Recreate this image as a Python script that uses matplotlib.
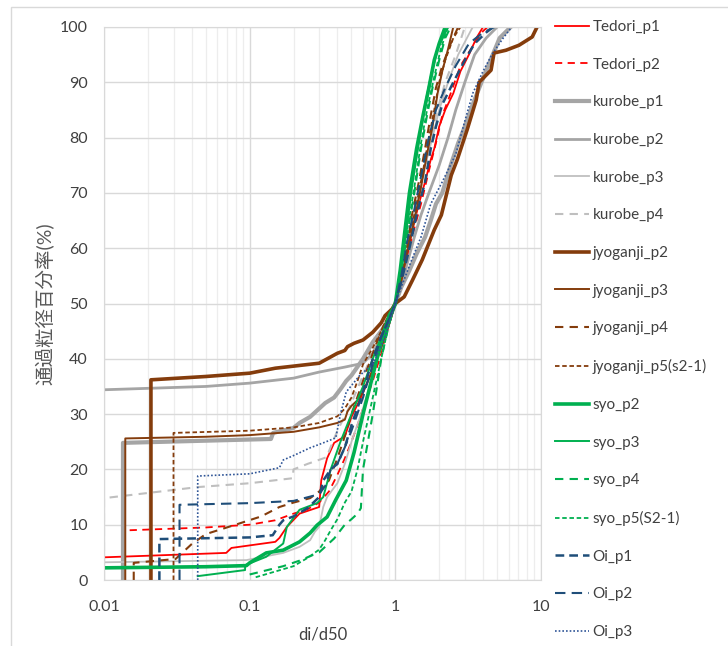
import matplotlib
matplotlib.use("Agg")
import matplotlib.pyplot as plt
from matplotlib.patches import Rectangle

plt.rcParams['font.family'] = ['Lato', 'Noto Sans CJK JP', 'DejaVu Sans']

# ---------------- data (di/d50, passing percentage) ----------------
tedori_p1_x = [0.01, 0.069, 0.075, 0.15, 0.16, 0.18, 0.22, 0.3, 0.31, 0.34, 0.38, 0.45, 0.5, 0.58, 0.7, 0.8, 0.9, 1.0,
               1.1, 1.2, 1.3, 1.45, 1.6, 1.75, 1.85, 2.0, 2.2, 2.5, 2.8, 3.2, 3.6, 4.0]
tedori_p1_y = [4.1, 4.9, 5.8, 6.9, 7.6, 9.6, 12, 13.2, 18, 22, 24.8, 26, 29.5, 33, 38, 42, 46, 50,
               54, 58, 63, 68, 72, 76, 78, 82, 85, 88, 92, 95, 98, 100]

tedori_p2_x = [0.015, 0.05, 0.1, 0.15, 0.2, 0.25, 0.3, 0.35, 0.4, 0.45, 0.5, 0.55, 0.6, 0.7, 0.8, 0.9, 1.0,
               1.15, 1.3, 1.5, 1.7, 1.9, 2.1, 2.4, 2.8, 3.3, 3.9, 4.3]
tedori_p2_y = [9.0, 9.5, 10.0, 10.8, 12.0, 12.8, 14.0, 16, 19, 22, 25, 28, 31, 36, 41, 46, 50,
               56, 62, 68, 74, 79, 84, 88, 93, 96, 99, 100]

kurobe_p1_x = [0.0135, 0.0135, 0.14, 0.145, 0.2, 0.22, 0.26, 0.3, 0.33, 0.38, 0.42, 0.46, 0.5, 0.6, 0.7, 0.8, 0.9, 1.0,
               1.1, 1.25, 1.4, 1.6, 1.75, 1.9, 2.1, 2.4, 2.7, 3.0, 3.4, 3.9, 4.5, 5.2, 6.2]
kurobe_p1_y = [0, 24.8, 25.5, 26.6, 27.5, 28.4, 29.5, 31, 32, 33, 34.5, 36, 37, 40, 43, 45, 47, 50,
               53, 56, 59, 62, 65, 68, 70, 75, 79, 82, 86, 90, 94, 98, 100]

kurobe_p2_x = [0.01, 0.05, 0.1, 0.2, 0.3, 0.45, 0.6, 0.7, 0.8, 0.9, 1.0,
               1.1, 1.2, 1.35, 1.5, 1.7, 2.0, 2.3, 2.6, 3.0, 3.5, 4.2, 5.0]
kurobe_p2_y = [34.4, 35.0, 35.6, 36.5, 37.6, 38.5, 39.2, 41, 44, 47, 50,
               53, 57, 62, 66, 70, 75, 80, 85, 90, 95, 98, 100]

kurobe_p3_x = [0.01, 0.095, 0.17, 0.22, 0.26, 0.28, 0.3, 0.32, 0.34, 0.4, 0.45, 0.5, 0.6, 0.7, 0.8, 0.9, 1.0,
               1.1, 1.25, 1.4, 1.6, 1.8, 2.0, 2.3, 2.7, 3.4]
kurobe_p3_y = [3.2, 3.6, 4.9, 6.0, 7.2, 8.7, 9.6, 13.2, 15, 17.5, 21, 25, 31, 37, 42, 46, 50,
               55, 62, 68, 75, 80, 85, 90, 95, 100]

kurobe_p4_x = [0.01, 0.01, 0.044, 0.1, 0.197, 0.2, 0.25, 0.337, 0.4, 0.5, 0.6, 0.7, 0.8, 0.9, 1.0,
               1.1, 1.2, 1.35, 1.5, 1.7, 1.9, 2.2, 2.6, 3.0]
kurobe_p4_y = [0, 14.8, 16.8, 17.5, 18.4, 20, 21, 22.2, 27, 32, 37, 41, 45, 48, 50,
               54, 59, 65, 71, 78, 84, 90, 95, 100]

jyoganji_p2_x = [0.021, 0.021, 0.05, 0.1, 0.15, 0.3, 0.4, 0.45, 0.47, 0.52, 0.6, 0.7, 0.8, 0.85, 0.95, 1.0,
                 1.15, 1.31, 1.53, 1.85, 2.07, 2.42, 2.66, 3.11, 3.59, 3.76, 4.54, 4.76, 5.75, 7.06, 8.7, 9.4]
jyoganji_p2_y = [0, 36.2, 36.8, 37.4, 38.3, 39.2, 41, 41.5, 42.2, 42.8, 43.4, 44.8, 46.5, 47.8, 49, 50,
                 51.2, 54.2, 57.9, 63.3, 66, 73.2, 76, 81.4, 86.8, 90, 92.2, 95.3, 95.8, 96.7, 98.2, 100]

jyoganji_p3_x = [0.014, 0.014, 0.05, 0.1, 0.2, 0.3, 0.4, 0.45, 0.47, 0.5, 0.55, 0.6, 0.7, 0.8, 0.9, 1.0,
                 1.1, 1.2, 1.35, 1.5, 1.65, 1.8, 1.95, 2.1, 2.3, 2.5]
jyoganji_p3_y = [0, 25.6, 25.9, 26.2, 26.8, 27.6, 28.4, 29, 30.5, 31.5, 32.5, 34, 38, 42, 46, 50,
                 54, 59, 65, 71, 77, 82, 88, 92, 96, 100]

jyoganji_p4_x = [0.016, 0.016, 0.031, 0.04, 0.05, 0.08, 0.12, 0.16, 0.2, 0.26, 0.3, 0.35, 0.4, 0.45, 0.5, 0.6, 0.7,
                 0.8, 0.9, 1.0, 1.1, 1.2, 1.3, 1.45, 1.6, 1.75, 1.9, 2.1, 2.4, 2.7]
jyoganji_p4_y = [0, 3.1, 3.8, 6.5, 8.3, 10, 11.5, 13.2, 14, 14.8, 16, 18, 22, 26, 30, 36, 41,
                 45, 48, 50, 54, 60, 66, 72, 78, 84, 89, 93, 97, 100]

jyoganji_p5_x = [0.03, 0.03, 0.1, 0.2, 0.3, 0.4, 0.45, 0.5, 0.55, 0.6, 0.7, 0.8, 0.9, 1.0,
                 1.1, 1.25, 1.4, 1.55, 1.7, 1.85, 2.0, 2.2, 2.5, 2.8]
jyoganji_p5_y = [0, 26.6, 27.0, 27.6, 28.4, 29.6, 31, 33, 36, 39, 42, 45, 48, 50,
                 55, 62, 68, 74, 80, 85, 90, 94, 98, 100]

syo_p2_x = [0.01, 0.05, 0.095, 0.1, 0.13, 0.17, 0.22, 0.26, 0.29, 0.34, 0.39, 0.46, 0.52, 0.6, 0.7, 0.8, 0.9, 1.0,
            1.08, 1.15, 1.25, 1.4, 1.55, 1.7, 1.85, 2.0, 2.2]
syo_p2_y = [2.2, 2.4, 2.6, 3.1, 4.9, 5.4, 6.9, 8.5, 9.9, 11.4, 14.5, 18, 23, 30, 37, 43, 47, 50,
            56, 62, 70, 78, 84, 89, 94, 97, 100]

syo_p3_x = [0.044, 0.093, 0.093, 0.1, 0.13, 0.17, 0.18, 0.22, 0.29, 0.32, 0.36, 0.42, 0.5, 0.6, 0.7, 0.8, 0.9, 1.0,
            1.1, 1.2, 1.3, 1.45, 1.6, 1.75, 1.95, 2.3]
syo_p3_y = [0.7, 1.8, 2.7, 3.0, 4.2, 6.6, 9.6, 12.7, 13.9, 15, 20, 25, 30, 35, 40, 44, 48, 50,
            57, 64, 71, 79, 86, 91, 96, 100]

syo_p4_x = [0.1, 0.17, 0.22, 0.3, 0.38, 0.45, 0.5, 0.55, 0.58, 0.6, 0.7, 0.8, 0.9, 1.0,
            1.1, 1.2, 1.35, 1.5, 1.65, 1.8, 2.0, 2.2, 2.4]
syo_p4_y = [1.0, 2.5, 3.5, 5, 7.5, 10, 11, 12, 13, 20, 30, 40, 46, 50,
            56, 62, 70, 78, 84, 89, 94, 98, 100]

syo_p5_x = [0.11, 0.2, 0.25, 0.3, 0.33, 0.36, 0.4, 0.45, 0.5, 0.55, 0.6, 0.7, 0.8, 0.9, 1.0,
            1.1, 1.22, 1.35, 1.5, 1.65, 1.85, 2.05, 2.3]
syo_p5_y = [0.5, 2.5, 4.0, 5.5, 7.2, 9, 11, 14, 16, 20, 25, 33, 40, 46, 50,
            57, 64, 71, 79, 85, 91, 96, 100]

oi_p1_x = [0.024, 0.024, 0.1, 0.144, 0.16, 0.17, 0.2, 0.25, 0.3, 0.32, 0.36, 0.4, 0.45, 0.5, 0.6, 0.7, 0.8, 0.9, 1.0,
           1.1, 1.25, 1.4, 1.6, 1.75, 1.9, 2.1, 2.5, 3.0, 3.5, 4.2, 4.7]
oi_p1_y = [0, 7.4, 7.7, 8.1, 10.0, 10.8, 11.5, 13.0, 15.0, 18, 20, 21, 24, 28, 34, 40, 44, 47, 50,
           54, 60, 66, 72, 78, 82, 86, 90, 94, 97, 99, 100]

oi_p2_x = [0.033, 0.033, 0.1, 0.2, 0.3, 0.33, 0.36, 0.4, 0.45, 0.5, 0.6, 0.7, 0.8, 0.9, 1.0,
           1.1, 1.2, 1.35, 1.5, 1.7, 1.9, 2.2, 2.6, 3.2, 4.0, 4.8]
oi_p2_y = [0, 13.6, 13.9, 14.3, 15.5, 17, 20, 21, 24, 27, 33, 39, 44, 47, 50,
           55, 61, 67, 73, 80, 85, 89, 93, 97, 99, 100]

oi_p3_x = [0.044, 0.044, 0.1, 0.16, 0.17, 0.2, 0.26, 0.32, 0.39, 0.42, 0.46, 0.57, 0.7, 0.85, 1.0,
           1.1, 1.3, 1.5, 1.75, 2.1, 2.6, 3.0, 3.4, 4.0, 4.6, 5.5, 6.3]
oi_p3_y = [0, 18.8, 19.2, 20.3, 21.7, 22.5, 23.9, 24.8, 25.7, 30, 34, 37, 39, 44, 50,
           53, 58, 62, 68, 72, 77, 83, 88, 92, 95, 98, 100]

series_names = ['Tedori_p1', 'Tedori_p2', 'kurobe_p1', 'kurobe_p2', 'kurobe_p3', 'kurobe_p4',
                'jyoganji_p2', 'jyoganji_p3', 'jyoganji_p4', 'jyoganji_p5(s2-1)',
                'syo_p2', 'syo_p3', 'syo_p4', 'syo_p5(S2-1)', 'Oi_p1', 'Oi_p2', 'Oi_p3']
series_x = [tedori_p1_x, tedori_p2_x, kurobe_p1_x, kurobe_p2_x, kurobe_p3_x, kurobe_p4_x,
            jyoganji_p2_x, jyoganji_p3_x, jyoganji_p4_x, jyoganji_p5_x,
            syo_p2_x, syo_p3_x, syo_p4_x, syo_p5_x, oi_p1_x, oi_p2_x, oi_p3_x]
series_y = [tedori_p1_y, tedori_p2_y, kurobe_p1_y, kurobe_p2_y, kurobe_p3_y, kurobe_p4_y,
            jyoganji_p2_y, jyoganji_p3_y, jyoganji_p4_y, jyoganji_p5_y,
            syo_p2_y, syo_p3_y, syo_p4_y, syo_p5_y, oi_p1_y, oi_p2_y, oi_p3_y]

# ---------------- styles ----------------
RED = '#FF0000'
GRAY = '#A5A5A5'
LGRAY = '#BFBFBF'
BROWN = '#843C0C'
GREEN = '#00B050'
BLUE = '#1F4E79'
styles = [
    dict(color=RED, lw=1.3, ls='-'),
    dict(color=RED, lw=1.3, ls=(0, (4, 3))),
    dict(color=GRAY, lw=3.0, ls='-'),
    dict(color=GRAY, lw=2.0, ls='-'),
    dict(color=LGRAY, lw=1.3, ls='-'),
    dict(color=LGRAY, lw=1.5, ls=(0, (4, 3))),
    dict(color=BROWN, lw=2.6, ls='-'),
    dict(color=BROWN, lw=1.4, ls='-'),
    dict(color=BROWN, lw=1.5, ls=(0, (4, 3))),
    dict(color=BROWN, lw=1.3, ls=(0, (2.5, 1.5))),
    dict(color=GREEN, lw=2.6, ls='-'),
    dict(color=GREEN, lw=1.4, ls='-'),
    dict(color=GREEN, lw=1.5, ls=(0, (4, 3))),
    dict(color=GREEN, lw=1.3, ls=(0, (2.5, 1.5))),
    dict(color=BLUE, lw=1.8, ls=(0, (3.5, 2))),
    dict(color=BLUE, lw=1.5, ls=(0, (5, 3))),
    dict(color='#2F5597', lw=1.2, ls=(0, (1, 1.2))),
]

fig = plt.figure(figsize=(7.28, 6.46), dpi=100)
fig.patches.append(Rectangle((11 / 728, -0.1), 1.2, 1 - 7 / 646 + 0.1, transform=fig.transFigure,
                             fill=False, edgecolor='#D9D9D9', lw=1.0))
ax = fig.add_axes([104 / 728, 1 - 580 / 646, (541 - 104) / 728, (580 - 27) / 646])

for name, xs, ys, st in zip(series_names, series_x, series_y, styles):
    ax.plot(xs, ys, label=name, color=st['color'], lw=st['lw'], linestyle=st['ls'],
            solid_joinstyle='round', dash_capstyle='butt')

ax.set_xscale('log')
ax.set_xlim(0.01, 10)
ax.set_ylim(0, 100)
ax.set_yticks(range(0, 101, 10))
ax.set_xticks([0.01, 0.1, 1, 10])
ax.set_xticklabels(['0.01', '0.1', '1', '10'])
ax.grid(True, which='major', color='#D9D9D9', lw=1.0)
ax.grid(True, which='minor', axis='x', color='#EDEDED', lw=0.9)
ax.set_axisbelow(True)
ax.tick_params(which='both', length=0, labelsize=11.5, colors='#404040')
ax.tick_params(axis='x', pad=14.5)
ax.tick_params(axis='y', pad=11.5)
for s in ax.spines.values():
    s.set_color('#D9D9D9')

ax.set_xlabel('di/d50', fontsize=12, color='#404040', labelpad=9)
ax.set_ylabel('通過粒径百分率(%)', fontsize=14, color='#595959', labelpad=4)

leg = fig.legend(loc='upper left', bbox_to_anchor=(555 / 728, 1 - 20 / 646), frameon=False,
                 fontsize=11, handlelength=2.2, handletextpad=0.25, labelspacing=1.55,
                 borderaxespad=0, borderpad=0)
for t in leg.get_texts():
    t.set_color('#404040')

fig.savefig('out.png', dpi=100)
